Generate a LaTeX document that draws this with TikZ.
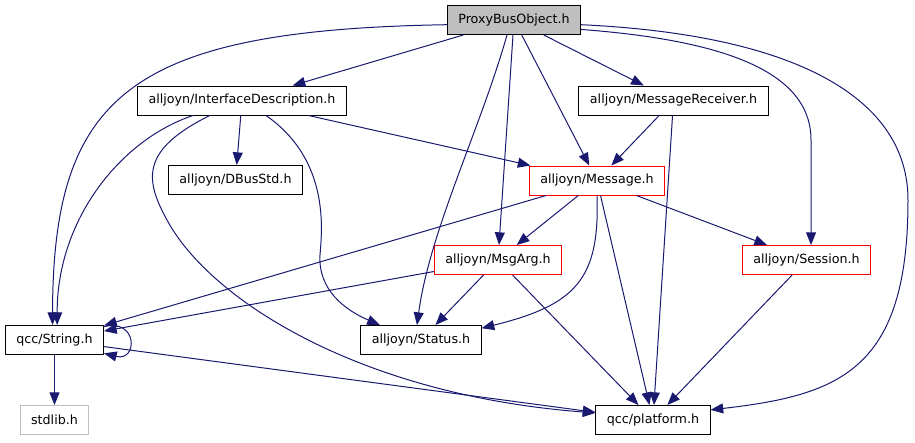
\documentclass[tikz,border=0pt]{standalone}
\usepackage{fontspec}
\setmainfont{DejaVu Sans}
\usetikzlibrary{arrows.meta}
\definecolor{edgeblue}{HTML}{191970}
\definecolor{framegrey}{HTML}{BFBFBF}
\tikzset{
  filebox/.style={
    rectangle, draw=#1, fill=white, line width=0.75pt,
    minimum height=21.75pt, inner xsep=8.25pt, inner ysep=2pt,
    font=\fontsize{9.5}{11}\selectfont, align=center
  },
  filebox/.default=black,
  deparrow/.style={
    -{Triangle[length=9.5pt,width=7.5pt]}, line width=0.75pt, color=#1
  },
  deparrow/.default=edgeblue,
}
\begin{document}
\begin{tikzpicture}[x=0.75pt, y=-0.75pt]
\useasboundingbox (0,0) rectangle (915,443);
% files
\node[filebox, fill=framegrey] (proxy) at (514,20) {ProxyBusObject.h};
\node[filebox] (iface) at (242,100.5) {alljoyn/InterfaceDescription.h};
\node[filebox] (msgrecv) at (673.5,100.5) {alljoyn/MessageReceiver.h};
\node[filebox] (dbus) at (235.5,180) {alljoyn/DBusStd.h};
\node[filebox=red] (message) at (597,180.5) {alljoyn/Message.h};
\node[filebox=red] (msgarg) at (498,260) {alljoyn/MsgArg.h};
\node[filebox=red] (session) at (806.5,260) {alljoyn/Session.h};
\node[filebox] (string) at (54.5,340) {qcc/String.h};
\node[filebox] (status) at (421,340) {alljoyn/Status.h};
\node[filebox=framegrey] (stdlib) at (54.5,420) {stdlib.h};
\node[filebox] (platform) at (653,420) {qcc/platform.h};
% includes of ProxyBusObject.h
\draw[deparrow] (proxy.184) .. controls (130,30) and (53,95) .. ([xshift=-1.5pt]string.north);
\draw[deparrow] (proxy) -- (iface);
\draw[deparrow] (proxy.245) .. controls (480,130) and (430,230) .. (status.105);
\draw[deparrow] (proxy) -- (msgarg);
\draw[deparrow] (proxy) -- (message);
\draw[deparrow] (proxy) -- (msgrecv);
\draw[deparrow] (proxy.-8) .. controls (720,40) and (811,70) .. (811,140)
  -- ([xshift=3.4pt]session.north);
\draw[deparrow] (proxy.-4) .. controls (800,35) and (908,100) .. (908,200)
  .. controls (908,370) and (840,395) .. (platform.10);
% includes of InterfaceDescription.h
\draw[deparrow] (iface) -- (dbus);
\draw[deparrow] (iface) -- (message);
\draw[deparrow] (iface.197) .. controls (120,140) and (57,220) .. ([xshift=2pt]string.north);
\draw[deparrow] (iface.205) .. controls (140,150) and (145,180) .. (167,220)
  .. controls (210,300) and (360,395) .. (platform.173);
\draw[deparrow] (iface.328) .. controls (330,160) and (322,230) .. (320,255)
  .. controls (318,290) and (345,310) .. (status.160);
% includes of MessageReceiver.h
\draw[deparrow] (msgrecv) -- (message);
\draw[deparrow] (msgrecv) -- (platform);
% includes of Message.h
\draw[deparrow] (message) -- (string);
\draw[deparrow] (message) -- (msgarg);
\draw[deparrow] (message.south) .. controls (600,280) and (575,305) .. (status.11);
\draw[deparrow] (message) -- (platform);
\draw[deparrow] (message) -- (session);
% includes of MsgArg.h and Session.h
\draw[deparrow] (msgarg) -- (string);
\draw[deparrow] (msgarg) -- (status);
\draw[deparrow] (msgarg) -- (platform);
\draw[deparrow] (session) -- (platform);
% includes of String.h
\draw[deparrow] (string.15) .. controls (138,318) and (138,362) .. (string.-15);
\draw[deparrow] (string) -- (stdlib);
\draw[deparrow] (string) -- (platform);
\end{tikzpicture}
\end{document}
